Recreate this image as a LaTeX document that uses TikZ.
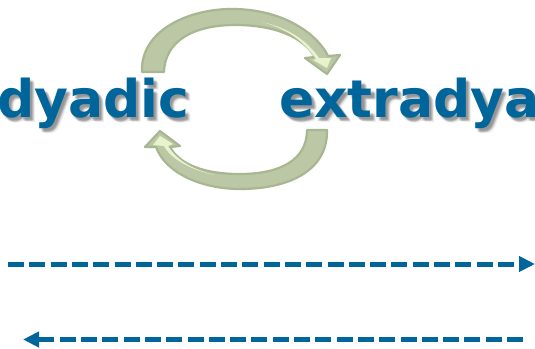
\documentclass[tikz,border=0pt]{standalone}
\usepackage{fontspec}
\setmainfont{DejaVu Sans}
\usetikzlibrary{arrows.meta}
\definecolor{txtblue}{HTML}{00659A}
\definecolor{arrowedge}{HTML}{A9B692}
\definecolor{arrowbody}{HTML}{BCC7A6}
\definecolor{arrowlight}{HTML}{E8F2CC}
\begin{document}
\begin{tikzpicture}[x=1pt,y=-1pt,
  bigword/.style={font=\fontsize{52}{52}\selectfont\bfseries, inner sep=0pt, anchor=base west},
  wordshadow/.style={bigword, text=black, opacity=0.07},
  cyclearrow/.style={fill=arrowbody, draw=arrowedge, line width=2.2pt, line join=round},
  highlight/.style={draw=none, fill=arrowlight},
  dasharrow/.style={draw=txtblue, line width=5pt, dash pattern=on 16pt off 5.3pt,
    -{Triangle[length=16pt,width=15pt]}}]
\useasboundingbox (0,0) rectangle (535,348);
\fill[white] (0,0) rectangle (535,348);
\begin{scope}
  \clip (0,0) rectangle (535,348);
  \foreach \dx/\dy in {2/2,3/3,4/4,3/4,4/3,5/5,2/4}{
    \node[wordshadow] (sa) at (-3+\dx,117+\dy) {dyadic};
    \node[wordshadow] (sb) at (279+\dx,117+\dy) {extradyadic};
  }
  \node[bigword, text=txtblue] (dy) at (-3,117) {dyadic};
  \node[bigword, text=txtblue] (ex) at (279,117) {extradyadic};
\end{scope}
% top cycle arrow
\path[cyclearrow] (142,72) .. controls (140,30) and (190,8) .. (235,9)
  .. controls (285,10) and (318,35) .. (328,56) -- (340,55) -- (327,74) -- (305,58) -- (315,57)
  .. controls (303,37) and (275,25) .. (235,25) .. controls (195,25) and (165,40) .. (164,72) -- cycle;
\path[highlight] (262,22) .. controls (290,28) and (308,42) .. (319,58) -- (331,58) -- (327,68) -- (313,60) -- (316,59)
  .. controls (303,40) and (285,28) .. (262,22) -- cycle;
% bottom cycle arrow
\path[cyclearrow] (327,130) .. controls (328,170) and (290,189) .. (240,189)
  .. controls (200,189) and (165,172) .. (156,147) -- (145,147) -- (160,131) -- (180,146) -- (170,147)
  .. controls (180,165) and (205,174) .. (240,174) .. controls (280,174) and (307,160) .. (307,130) -- cycle;
\path[highlight] (215,175) .. controls (190,170) and (170,158) .. (164,146) -- (153,145) -- (160,136) -- (173,144) -- (168,146)
  .. controls (178,162) and (195,170) .. (215,175) -- cycle;
% dashed arrows
\coordinate (rs) at (8,264);
\coordinate (re) at (535,264);
\coordinate (ls) at (523,339.5);
\coordinate (le) at (23,339.5);
\draw[dasharrow] (rs) -- (re);
\draw[dasharrow] (ls) -- (le);
\end{tikzpicture}
\end{document}
